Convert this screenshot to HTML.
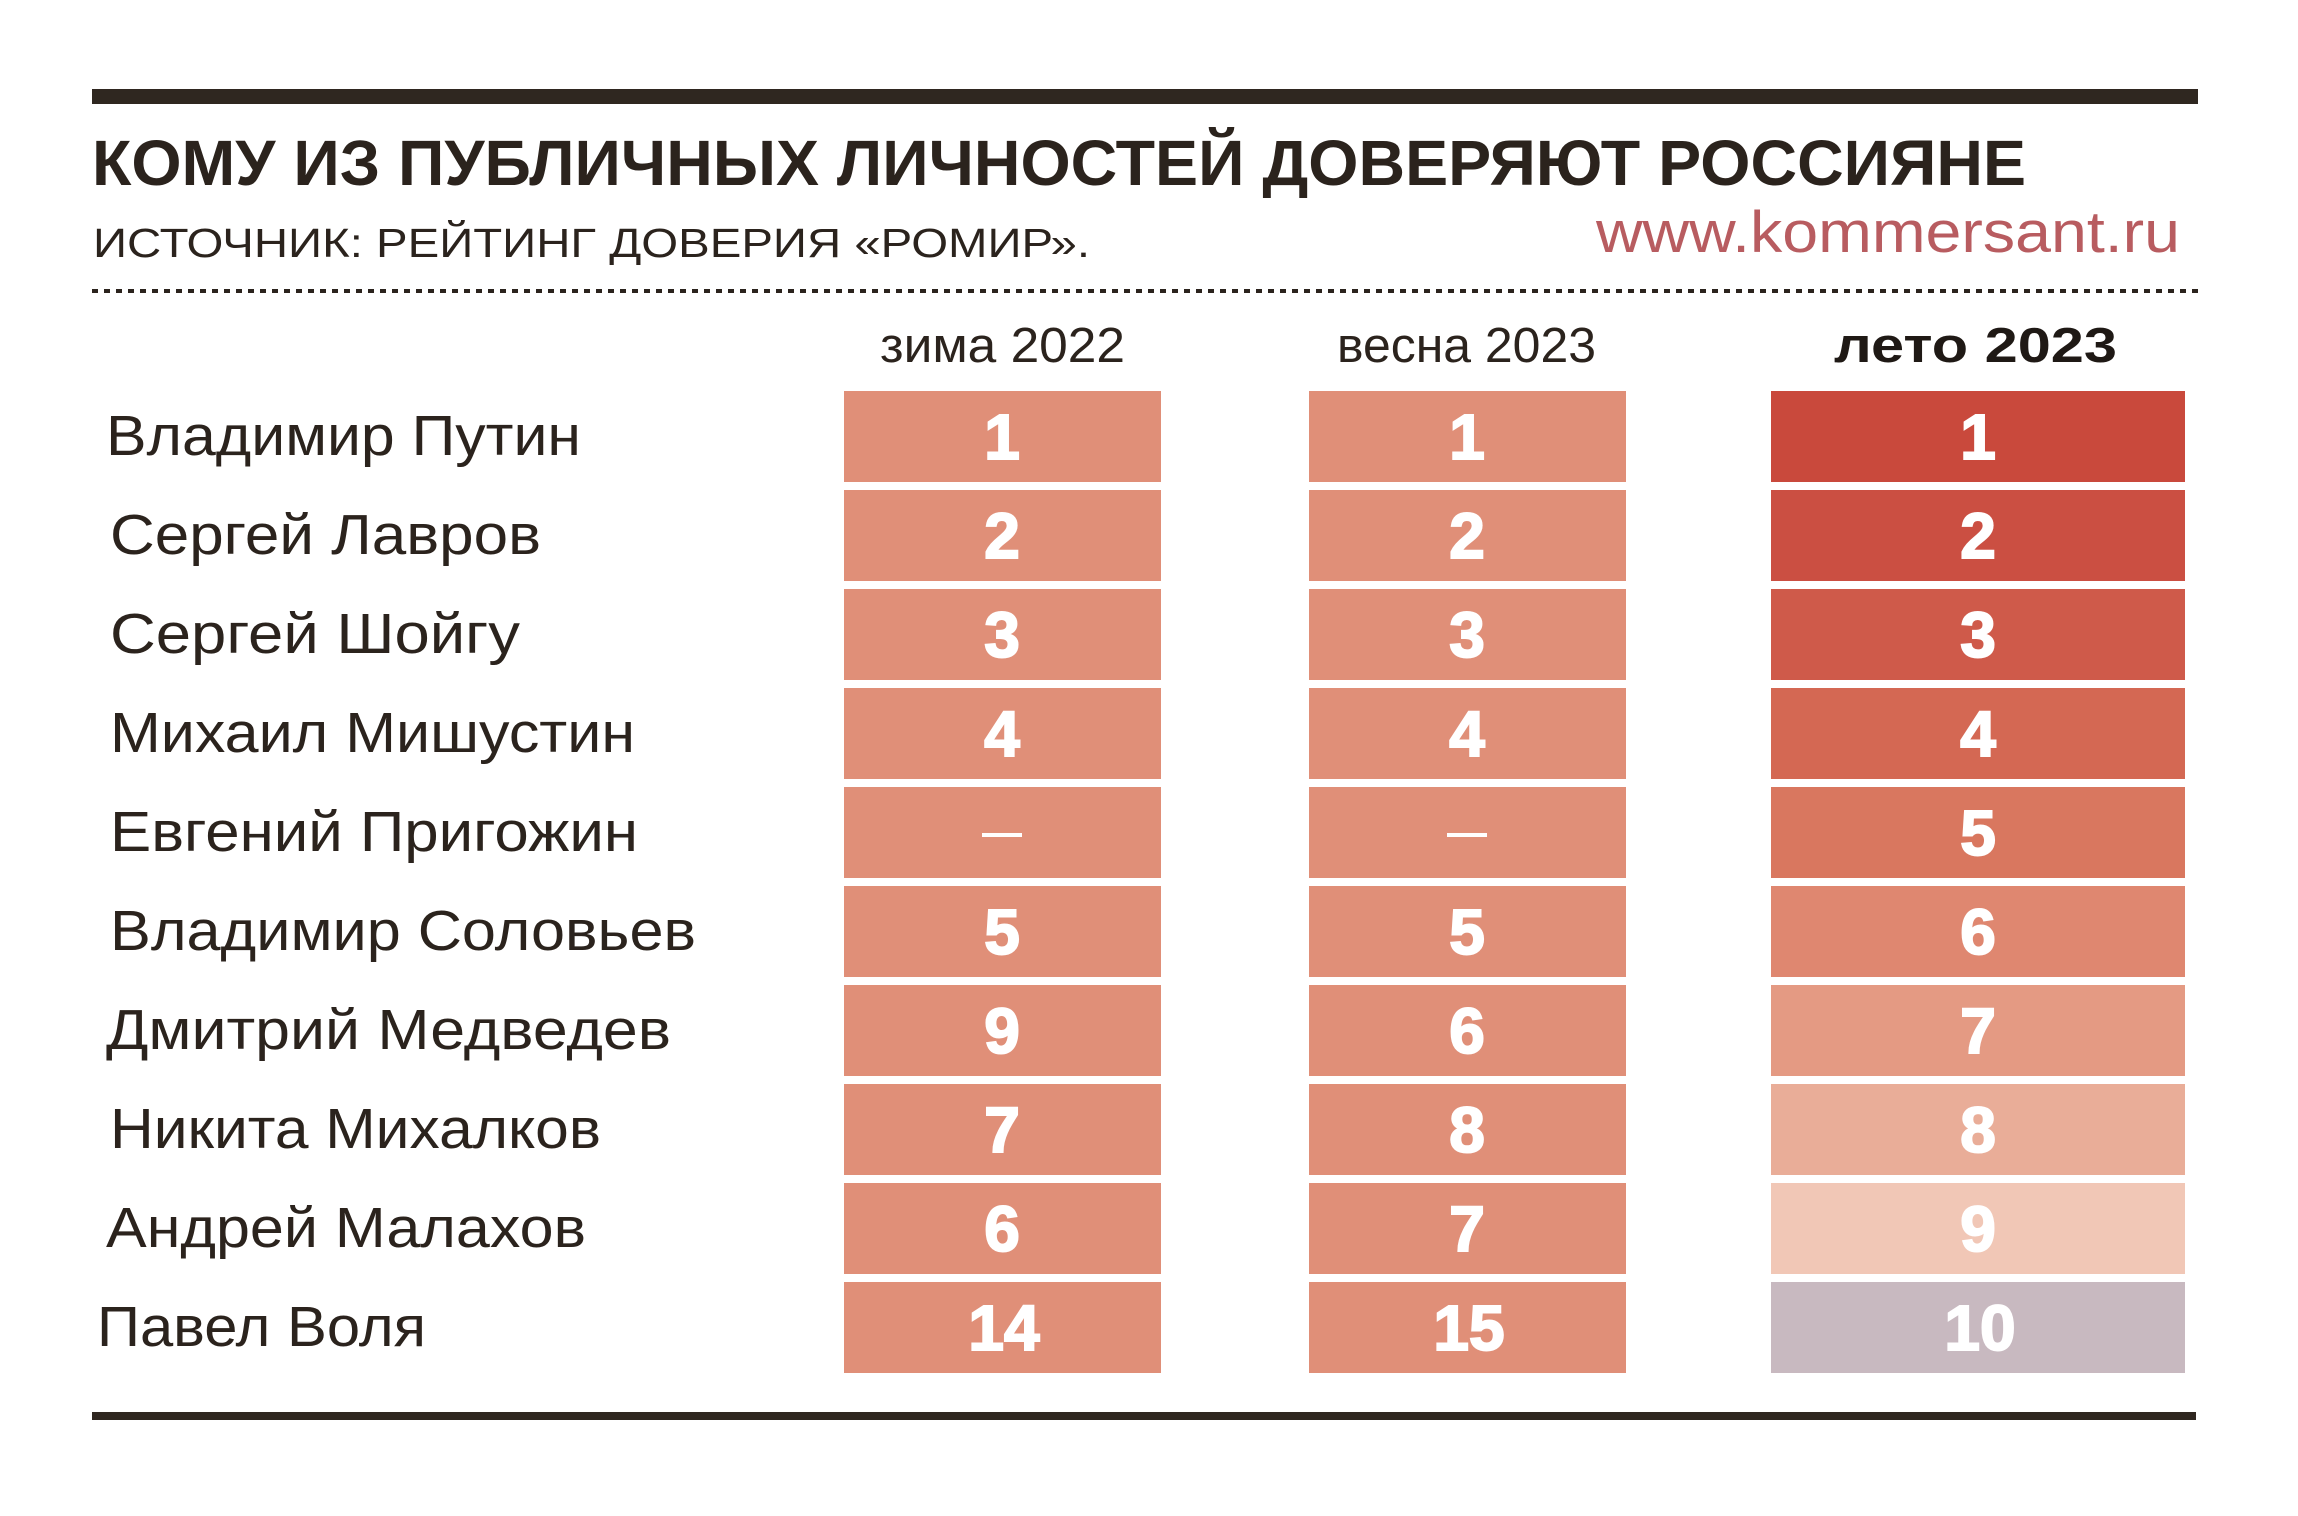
<!DOCTYPE html>
<html><head><meta charset="utf-8"><style>html,body{margin:0;padding:0;background:#fff}svg{display:block}</style></head>
<body>
<svg width="2298" height="1516" viewBox="0 0 2298 1516" xmlns="http://www.w3.org/2000/svg" font-family="'Liberation Sans', 'Noto Sans CJK SC', sans-serif">
<rect width="2298" height="1516" fill="#fff"/>
<rect x="92" y="89" width="2106" height="15" fill="#2f2720"/>
<text x="92" y="185" font-size="64" font-weight="bold" fill="#2b231d" textLength="1934" lengthAdjust="spacingAndGlyphs">КОМУ ИЗ ПУБЛИЧНЫХ ЛИЧНОСТЕЙ ДОВЕРЯЮТ РОССИЯНЕ</text>
<text x="93" y="257" font-size="41" fill="#2b231d" textLength="997" lengthAdjust="spacingAndGlyphs">ИСТОЧНИК: РЕЙТИНГ ДОВЕРИЯ «РОМИР».</text>
<text x="1596" y="252" font-size="58" fill="#b85c60" textLength="584" lengthAdjust="spacingAndGlyphs">www.kommersant.ru</text>
<line x1="92" y1="291" x2="2198" y2="291" stroke="#2b231d" stroke-width="4" stroke-dasharray="6 6"/>
<text x="880" y="362" font-size="49" fill="#2b231d" textLength="245" lengthAdjust="spacingAndGlyphs">зима 2022</text>
<text x="1337" y="362" font-size="49" fill="#2b231d" textLength="259" lengthAdjust="spacingAndGlyphs">весна 2023</text>
<text x="1834" y="362" font-size="49" font-weight="bold" fill="#1f1915" textLength="283" lengthAdjust="spacingAndGlyphs">лето 2023</text>
<g font-size="57" fill="#2b231d">
<text x="106" y="455" textLength="475" lengthAdjust="spacingAndGlyphs">Владимир Путин</text>
<text x="110" y="554" textLength="431" lengthAdjust="spacingAndGlyphs">Сергей Лавров</text>
<text x="110" y="653" textLength="410" lengthAdjust="spacingAndGlyphs">Сергей Шойгу</text>
<text x="110" y="752" textLength="525" lengthAdjust="spacingAndGlyphs">Михаил Мишустин</text>
<text x="110" y="851" textLength="528" lengthAdjust="spacingAndGlyphs">Евгений Пригожин</text>
<text x="110" y="950" textLength="586" lengthAdjust="spacingAndGlyphs">Владимир Соловьев</text>
<text x="106" y="1049" textLength="565" lengthAdjust="spacingAndGlyphs">Дмитрий Медведев</text>
<text x="110" y="1148" textLength="491" lengthAdjust="spacingAndGlyphs">Никита Михалков</text>
<text x="106" y="1247" textLength="480" lengthAdjust="spacingAndGlyphs">Андрей Малахов</text>
<text x="97" y="1346" textLength="329" lengthAdjust="spacingAndGlyphs">Павел Воля</text>
</g>
<g fill="#e08f78">
<rect x="844" y="391" width="317" height="91"/><rect x="1309" y="391" width="317" height="91"/>
<rect x="844" y="490" width="317" height="91"/><rect x="1309" y="490" width="317" height="91"/>
<rect x="844" y="589" width="317" height="91"/><rect x="1309" y="589" width="317" height="91"/>
<rect x="844" y="688" width="317" height="91"/><rect x="1309" y="688" width="317" height="91"/>
<rect x="844" y="787" width="317" height="91"/><rect x="1309" y="787" width="317" height="91"/>
<rect x="844" y="886" width="317" height="91"/><rect x="1309" y="886" width="317" height="91"/>
<rect x="844" y="985" width="317" height="91"/><rect x="1309" y="985" width="317" height="91"/>
<rect x="844" y="1084" width="317" height="91"/><rect x="1309" y="1084" width="317" height="91"/>
<rect x="844" y="1183" width="317" height="91"/><rect x="1309" y="1183" width="317" height="91"/>
<rect x="844" y="1282" width="317" height="91"/><rect x="1309" y="1282" width="317" height="91"/>
</g>
<rect x="1771" y="391" width="414" height="91" fill="#c9493c"/>
<rect x="1771" y="490" width="414" height="91" fill="#cb4f42"/>
<rect x="1771" y="589" width="414" height="91" fill="#cf5a4a"/>
<rect x="1771" y="688" width="414" height="91" fill="#d46853"/>
<rect x="1771" y="787" width="414" height="91" fill="#d9775f"/>
<rect x="1771" y="886" width="414" height="91" fill="#df8770"/>
<rect x="1771" y="985" width="414" height="91" fill="#e49a83"/>
<rect x="1771" y="1084" width="414" height="91" fill="#e9ad98"/>
<rect x="1771" y="1183" width="414" height="91" fill="#f1c7b6"/>
<rect x="1771" y="1282" width="414" height="91" fill="#c8b9c0"/>
<g font-size="64" font-weight="bold" fill="#fff" stroke="#fff" stroke-width="2" text-anchor="middle">
<text x="1002" y="459">1</text><text x="1467" y="459">1</text><text x="1978" y="459">1</text>
<text x="1002" y="558">2</text><text x="1467" y="558">2</text><text x="1978" y="558">2</text>
<text x="1002" y="657">3</text><text x="1467" y="657">3</text><text x="1978" y="657">3</text>
<text x="1002" y="756">4</text><text x="1467" y="756">4</text><text x="1978" y="756">4</text>
<text x="1978" y="855">5</text>
<text x="1002" y="954">5</text><text x="1467" y="954">5</text><text x="1978" y="954">6</text>
<text x="1002" y="1053">9</text><text x="1467" y="1053">6</text><text x="1978" y="1053">7</text>
<text x="1002" y="1152">7</text><text x="1467" y="1152">8</text><text x="1978" y="1152">8</text>
<text x="1002" y="1251">6</text><text x="1467" y="1251">7</text><text x="1978" y="1251">9</text>
<text x="1004" y="1350">14</text><text x="1469" y="1350">15</text><text x="1980" y="1350">10</text>
</g>
<rect x="982" y="833" width="40" height="4" fill="#fff"/>
<rect x="1447" y="833" width="40" height="4" fill="#fff"/>
<rect x="92" y="1412" width="2104" height="8" fill="#2f2720"/>
</svg>
</body></html>
